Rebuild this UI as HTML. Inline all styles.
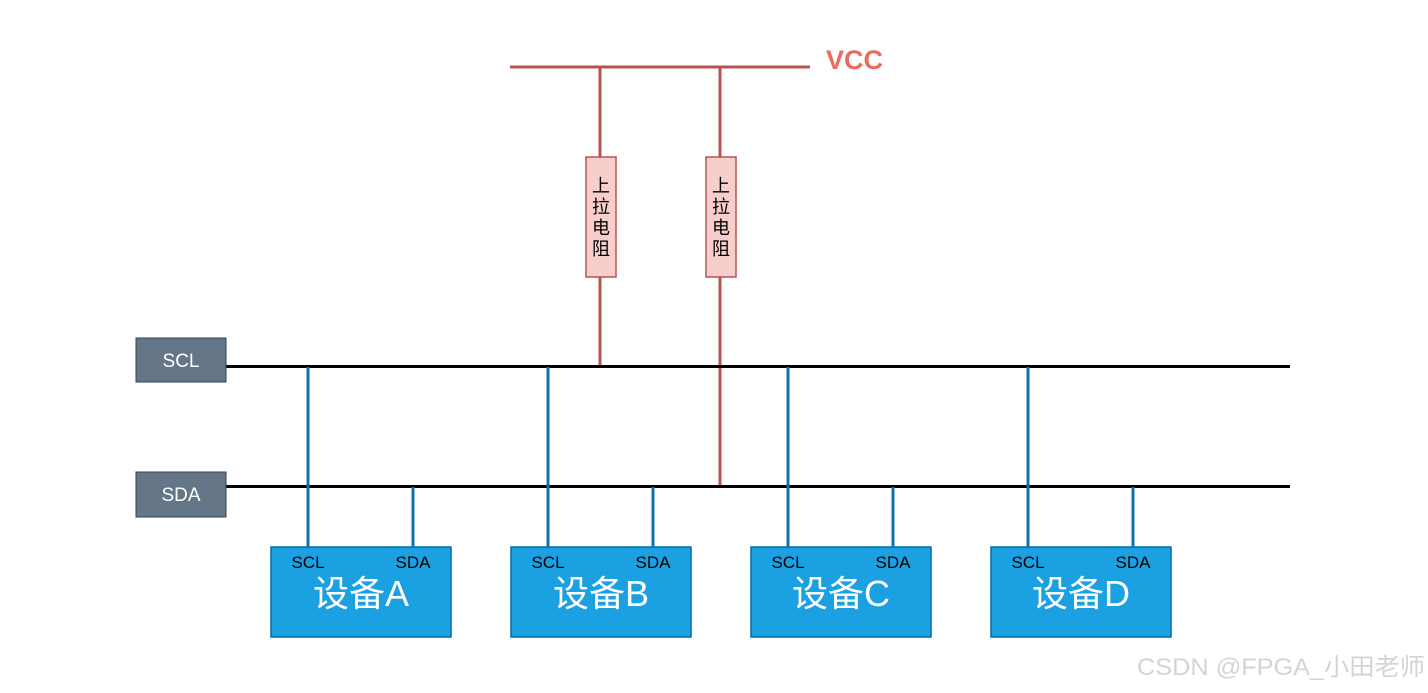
<!DOCTYPE html>
<html><head><meta charset="utf-8"><style>
html,body{margin:0;padding:0;background:#fff;width:1428px;height:693px;overflow:hidden}
text{font-family:"Liberation Sans","Noto Sans CJK SC",sans-serif}
</style></head><body>
<svg width="1428" height="693" viewBox="0 0 1428 693" xmlns="http://www.w3.org/2000/svg">
<line x1="510" y1="67" x2="810" y2="67" stroke="#b85450" stroke-width="3"/>
<text x="826" y="69" font-size="27" font-weight="bold" fill="#ea6b5f">VCC</text>
<line x1="600" y1="67" x2="600" y2="366" stroke="#b85450" stroke-width="3"/>
<line x1="720" y1="67" x2="720" y2="486" stroke="#b85450" stroke-width="3"/>
<rect x="586" y="157" width="30" height="120" fill="#f8cecc" stroke="#b85450" stroke-width="1.5"/>
<rect x="706" y="157" width="30" height="120" fill="#f8cecc" stroke="#b85450" stroke-width="1.5"/>
<g font-size="18" fill="#000" text-anchor="middle">
<text x="601" y="192">上</text><text x="601" y="213">拉</text><text x="601" y="234">电</text><text x="601" y="255">阻</text>
<text x="721" y="192">上</text><text x="721" y="213">拉</text><text x="721" y="234">电</text><text x="721" y="255">阻</text>
</g>
<line x1="226" y1="366.5" x2="1290" y2="366.5" stroke="#000" stroke-width="3"/>
<line x1="226" y1="486.5" x2="1290" y2="486.5" stroke="#000" stroke-width="3"/>
<rect x="136" y="338" width="90" height="44" fill="#647687" stroke="#314354" stroke-width="1"/>
<rect x="136" y="472" width="90" height="45" fill="#647687" stroke="#314354" stroke-width="1"/>
<text x="181" y="367" font-size="19" fill="#fff" text-anchor="middle">SCL</text>
<text x="181" y="501" font-size="19" fill="#fff" text-anchor="middle">SDA</text>
<g stroke="#1070ab" stroke-width="3">
<line x1="308" y1="367" x2="308" y2="547"/><line x1="413" y1="487" x2="413" y2="547"/>
<line x1="548" y1="367" x2="548" y2="547"/><line x1="653" y1="487" x2="653" y2="547"/>
<line x1="788" y1="367" x2="788" y2="547"/><line x1="893" y1="487" x2="893" y2="547"/>
<line x1="1028" y1="367" x2="1028" y2="547"/><line x1="1133" y1="487" x2="1133" y2="547"/>
</g>
<g fill="#1ba1e2" stroke="#006eaf" stroke-width="1.5">
<rect x="271" y="547" width="180" height="90"/>
<rect x="511" y="547" width="180" height="90"/>
<rect x="751" y="547" width="180" height="90"/>
<rect x="991" y="547" width="180" height="90"/>
</g>
<g font-size="17" fill="#000" text-anchor="middle">
<text x="308" y="568">SCL</text><text x="413" y="568">SDA</text>
<text x="548" y="568">SCL</text><text x="653" y="568">SDA</text>
<text x="788" y="568">SCL</text><text x="893" y="568">SDA</text>
<text x="1028" y="568">SCL</text><text x="1133" y="568">SDA</text>
</g>
<g font-size="36" fill="#fff" text-anchor="middle">
<text x="361" y="606">设备A</text>
<text x="601" y="606">设备B</text>
<text x="841" y="606">设备C</text>
<text x="1081" y="606">设备D</text>
</g>
<text x="1137" y="675" font-size="24" fill="#d4d4d4" textLength="288" lengthAdjust="spacingAndGlyphs">CSDN @FPGA_小田老师</text>
</svg>
</body></html>
